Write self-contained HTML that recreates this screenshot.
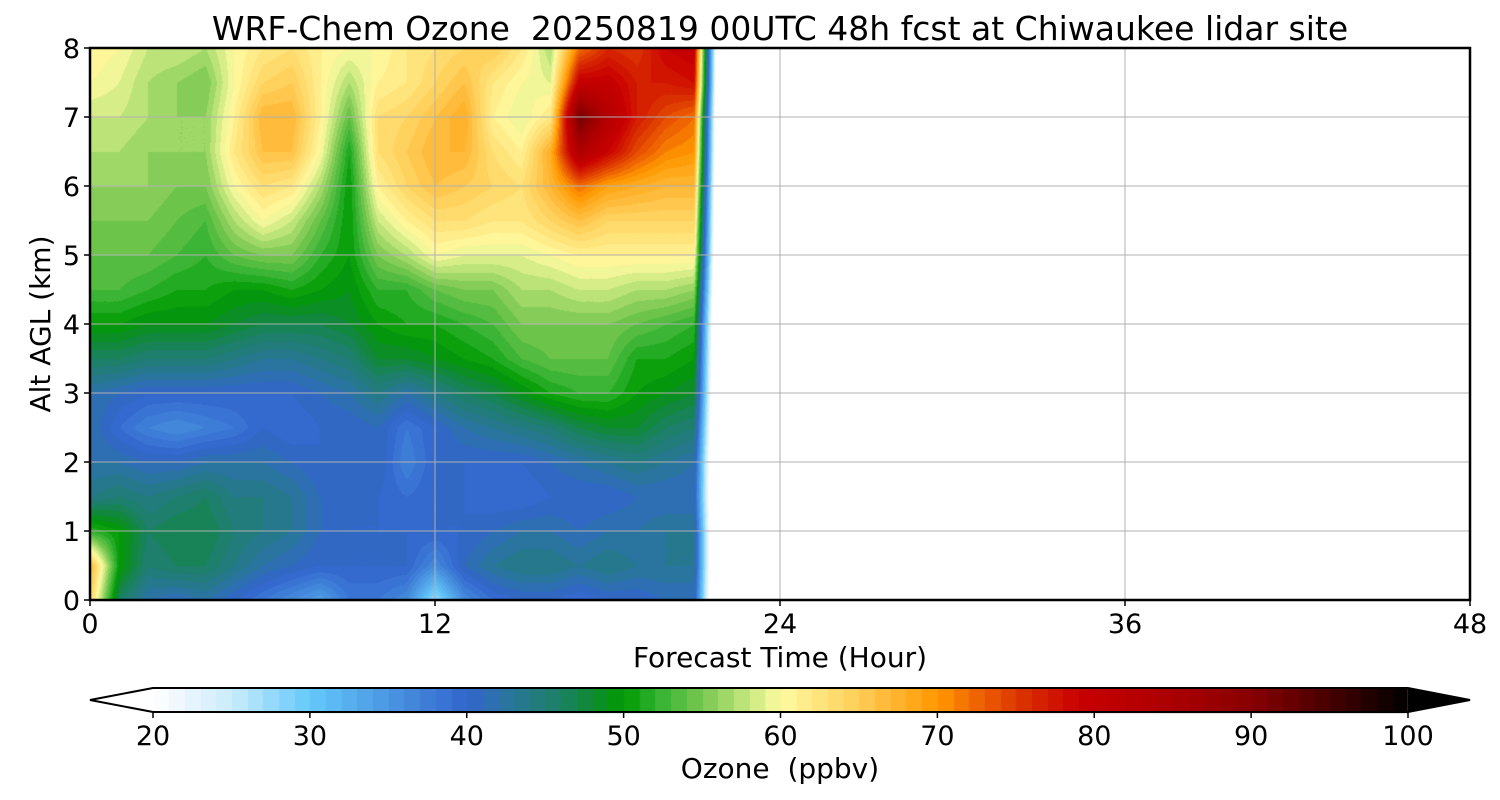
<!DOCTYPE html>
<html><head><meta charset="utf-8">
<style>
html,body{margin:0;padding:0;background:#fff;}
#wrap{position:relative;width:1500px;height:800px;overflow:hidden;font-family:"DejaVu Sans","Liberation Sans",sans-serif;}
canvas,svg{position:absolute;left:0;top:0;}
svg text{font-family:"DejaVu Sans","Liberation Sans",sans-serif;white-space:pre;}
</style></head>
<body>
<div id="wrap">
<canvas id="cv" width="1500" height="800"></canvas>
<svg id="sv" width="1500" height="800"></svg>
</div>
<script>
// ---- data ----
const hours = [0,1,2,3,4,5,6,7,8,9,10,11,12,13,14,15,16,17,18,19,20,21,22];
const heights = [0,0.5,1,1.5,2,2.5,3,3.5,4,4.5,5,5.5,6,6.5,7,7.5,8];
const ozone = [
 [64,67,52,44,42,42,42,46,50,53,54,55,56,57,58,60,61],
 [46,50,50,45,42,39,41,46,50,53,54,55,56,57,58,59,60],
 [42,45,46,44,41,37,40,45,49,52,54,55,56,56,57,57,58],
 [41,46,47,45,41,36,40,45,49,51,53,54,55,56,56,56,58],
 [42,46,47,46,42,37,40,45,49,51,52,53,55,56,56,55,57],
 [40,44,45,44,42,38,40,44,48,50,54,57,60,62,61,60,60],
 [38,42,44,44,42,40,40,43,47,50,55,60,63,66,67,64,62],
 [36,41,43,43,41,39,40,43,47,51,55,58,62,66,67,65,63],
 [34,40,41,41,40,40,41,44,47,50,52,54,57,60,61,61,61],
 [38,40,40,40,40,40,42,45,48,49,50,50,50,51,54,57,60],
 [38,40,40,40,41,41,44,48,50,52,55,58,61,63,63,61,60],
 [36,40,40,39,37,38,42,48,51,52,57,61,64,65,64,62,62],
 [27,36,40,40,40,40,44,49,51,54,60,63,66,67,66,64,63],
 [36,41,40,40,40,42,46,50,52,55,59,63,65,67,68,66,64],
 [39,43,41,39,40,43,47,51,53,55,59,62,64,63,61,62,65],
 [40,44,42,39,40,44,49,53,55,57,59,62,63,61,59,60,62],
 [40,44,42,40,41,45,51,54,55,57,60,64,67,68,62,59,57],
 [39,43,41,40,42,47,52,54,55,58,61,66,72,84,92,80,72],
 [40,44,42,40,43,48,52,54,55,58,61,64,69,79,83,80,76],
 [40,43,42,41,44,48,50,51,54,57,61,64,68,74,77,77,75],
 [41,43,43,41,43,46,49,51,53,57,61,64,67,71,74,77,79],
 [41,43,43,41,42,45,48,50,52,56,61,64,67,70,72,78,80],
 [0,0,0,0,0,0,0,0,0,0,0,0,0,0,0,0,0]
];
const xTicks = [0,12,24,36,48];
const yTicks = [0,1,2,3,4,5,6,7,8];
const cbTicks = [20,30,40,50,60,70,80,90,100];

// ---- colormap ----
const cmapStops = [
 [20,[255,255,255]],[22,[235,246,254]],[25,[200,236,252]],[30,[100,200,250]],[35,[74,150,226]],
 [40,[50,100,204]],[42,[44,115,170]],[44,[36,122,130]],[46,[26,128,100]],[48,[14,138,48]],
 [50,[0,154,0]],[52,[48,176,48]],[55,[120,200,80]],[58,[200,232,128]],[60,[255,250,160]],
 [65,[255,204,85]],[70,[255,152,0]],[73,[235,90,0]],[76,[215,40,0]],[79,[200,0,0]],
 [85,[170,0,0]],[90,[135,0,0]],[95,[70,0,0]],[100,[0,0,0]]
];
function cmap(v){
  if(v<20) return [255,255,255];
  if(v>=100) return [0,0,0];
  const lv=Math.floor(v)+0.5;
  for(let i=0;i<cmapStops.length-1;i++){
    const a=cmapStops[i],b=cmapStops[i+1];
    if(lv>=a[0]&&lv<=b[0]){const t=(lv-a[0])/(b[0]-a[0]);
      return [0,1,2].map(k=>Math.round(a[1][k]+(b[1][k]-a[1][k])*t));}
  }
  return [0,0,0];
}

// ---- axes ----
const X0=90,X1=1470,Y0=600,Y1=48;
const xs=h=>X0+(h/48)*(X1-X0);
const ys=z=>Y0-(z/8)*(Y0-Y1);
const hInv=x=>(x-X0)/(X1-X0)*48;
const zInv=y=>(Y0-y)/(Y0-Y1)*8;

const cv=document.getElementById('cv');
const ctx=cv.getContext('2d');
const img=ctx.createImageData(1500,800);
function put(x,y,c){const i=(y*1500+x)*4;img.data[i]=c[0];img.data[i+1]=c[1];img.data[i+2]=c[2];img.data[i+3]=255;}
function sample(h,z){
  const hmax=hours[hours.length-1];
  if(h>hmax) return 0;
  let i=0;while(i<hours.length-2&&hours[i+1]<h)i++;
  let j=0;while(j<heights.length-2&&heights[j+1]<z)j++;
  const tx=Math.min(1,Math.max(0,(h-hours[i])/(hours[i+1]-hours[i])));
  const ty=Math.min(1,Math.max(0,(z-heights[j])/(heights[j+1]-heights[j])));
  const a=ozone[i][j],b=ozone[i+1][j],c=ozone[i][j+1],d=ozone[i+1][j+1];
  return a*(1-tx)*(1-ty)+b*tx*(1-ty)+c*(1-tx)*ty+d*tx*ty;
}
for(let y=0;y<800;y++)for(let x=0;x<1500;x++)put(x,y,[255,255,255]);
for(let y=Y1;y<=Y0;y++)for(let x=X0;x<=X1;x++){
  put(x,y,cmap(sample(hInv(x),zInv(y))));
}
// colorbar
const CB0=153,CB1=1408,CBY0=688,CBY1=712;
const cbx=v=>CB0+(v-20)/80*(CB1-CB0);
for(let x=CB0;x<CB1;x++){const v=20+(x-CB0)/(CB1-CB0)*80;const c=cmap(v);
  for(let y=CBY0;y<=CBY1;y++)put(x,y,c);}
ctx.putImageData(img,0,0);

// ---- overlay ----
const sv=document.getElementById('sv');
const NS='http://www.w3.org/2000/svg';
function el(tag,attrs,txt){const e=document.createElementNS(NS,tag);for(const k in attrs)e.setAttribute(k,attrs[k]);if(txt!==undefined)e.textContent=txt;sv.appendChild(e);return e;}
let e;
yTicks.forEach(t=>{
  e=el('line',{x1:X0,x2:X1,y1:ys(t),y2:ys(t),stroke:'#b0b0b0','stroke-width':1});
  
  
  e=el('line',{x1:X0-6,x2:X0,y1:ys(t),y2:ys(t),stroke:'#000','stroke-width':1.5});
  
  
  e=el('text',{x:X0-10,y:ys(t)+10,'text-anchor':'end','font-size':27,fill:'#000'},String(t));
  
  
});
xTicks.forEach(t=>{
  e=el('line',{x1:xs(t),x2:xs(t),y1:Y1,y2:Y0,stroke:'#b0b0b0','stroke-width':1});
  
  
  e=el('line',{x1:xs(t),x2:xs(t),y1:Y0,y2:Y0+6,stroke:'#000','stroke-width':1.5});
  
  
  e=el('text',{x:xs(t),y:Y0+33,'text-anchor':'middle','font-size':27,fill:'#000'},String(t));
  
  
});
e=el('rect',{x:X0,y:Y1,width:X1-X0,height:Y0-Y1,fill:'none',stroke:'#000','stroke-width':2.5});


e=el('text',{x:780,y:40,'text-anchor':'middle','font-size':33,fill:'#000'},'WRF-Chem Ozone  20250819 00UTC 48h fcst at Chiwaukee lidar site');


e=el('text',{x:780,y:667,'text-anchor':'middle','font-size':28,fill:'#000'},'Forecast Time (Hour)');


e=el('text',{x:0,y:0,'text-anchor':'middle','font-size':28,fill:'#000',transform:'translate(50,324) rotate(-90)'},'Alt AGL (km)');


e=el('polygon',{points:`${CB0},${CBY0} 90,700 ${CB0},${CBY1}`,fill:'#fff',stroke:'none'});


e=el('polygon',{points:`${CB1},${CBY0} 1470,700 ${CB1},${CBY1}`,fill:'#000',stroke:'none'});


e=el('polygon',{points:`${CB0},${CBY0} 90,700 ${CB0},${CBY1} ${CB1},${CBY1} 1470,700 ${CB1},${CBY0}`,fill:'none',stroke:'#000','stroke-width':2});


cbTicks.forEach(t=>{
  e=el('line',{x1:cbx(t),x2:cbx(t),y1:CBY1,y2:CBY1+6,stroke:'#000','stroke-width':1.5});
  
  
  e=el('text',{x:cbx(t),y:745,'text-anchor':'middle','font-size':27,fill:'#000'},String(t));
  
  
});
e=el('text',{x:780,y:778,'text-anchor':'middle','font-size':28,fill:'#000'},'Ozone  (ppbv)');


</script>
</body></html>
